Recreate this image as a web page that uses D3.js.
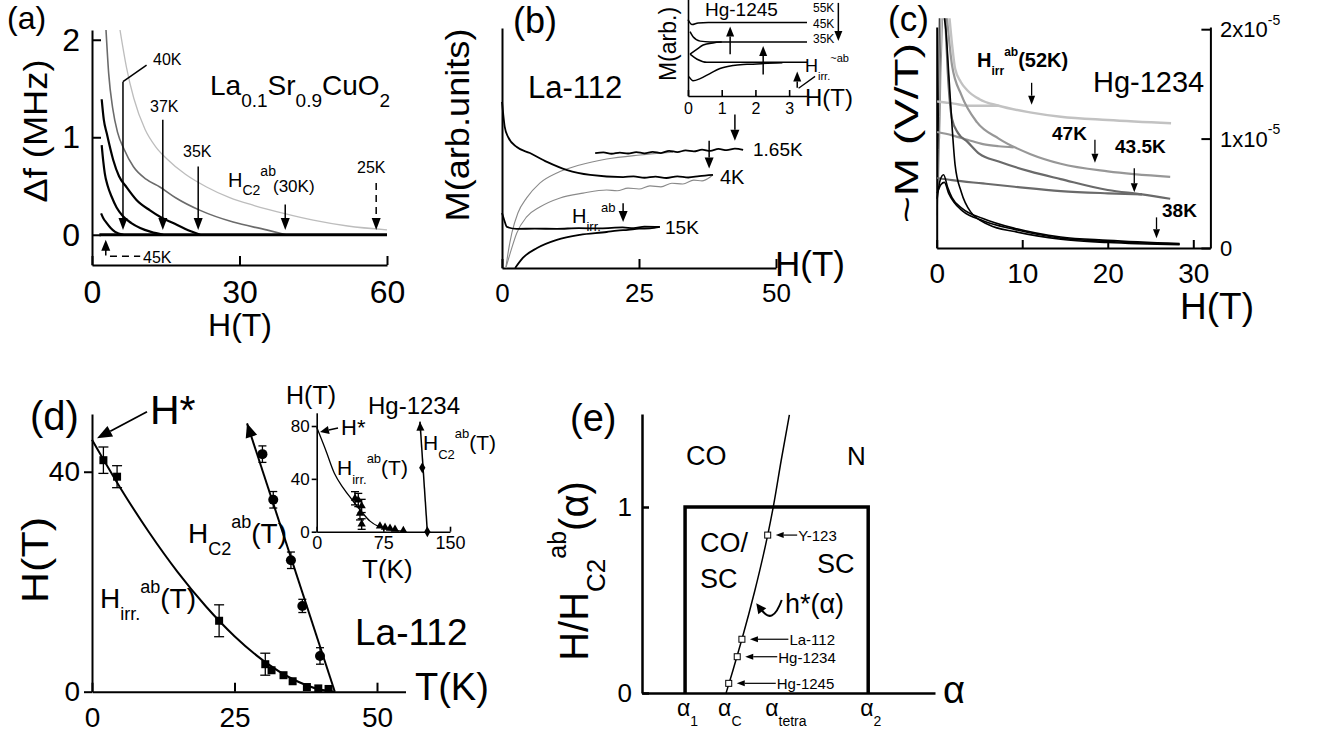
<!DOCTYPE html>
<html>
<head>
<meta charset="utf-8">
<script src="https://cdn.jsdelivr.net/npm/d3@7"></script>
<style>
  body { margin: 0; background: #fff; }
  text { font-family: "Liberation Sans", Arial, Helvetica, sans-serif; fill: #000; }
</style>
</head>
<body>
<svg id="fig" width="1331" height="735"></svg>
<script>
// ---------- data ----------

// (a) La0.1Sr0.9CuO2, delta f (MHz) vs H (T)
var tempsA = ["25K", "30K", "35K", "37K", "40K"];
var curvesA = [
  [[5.7,2.1],[7,1.72],[8.5,1.4],[10.8,1.08],[13,0.9],[15.2,0.78],[19,0.62],[23.3,0.49],[28,0.38],[33,0.3],[39,0.22],[45,0.15],[52,0.09],[60,0.05]],
  [[2.85,2.1],[3.4,1.65],[4.2,1.3],[5.2,1.05],[6.5,0.88],[8.4,0.7],[11,0.57],[13.8,0.49],[17,0.38],[22,0.25],[28.7,0.13],[35.5,0.05],[39.5,0]],
  [[1.97,1.39],[2.4,1.18],[3,1.04],[4.3,0.77],[5.5,0.6],[7,0.49],[9,0.36],[11.8,0.25],[14,0.18],[16.5,0.12],[19,0.06],[22,0]],
  [[1.97,0.92],[2.3,0.75],[2.6,0.63],[3.2,0.5],[4,0.39],[5,0.28],[6.3,0.19],[8,0.12],[9.8,0.07],[12,0.03],[14.5,0]],
  [[1.85,0.22],[2.3,0.17],[3,0.12],[3.8,0.07],[4.7,0.03],[6.4,0]]
];
var zeroA = [[1.5, 0], [60, 0]];
var arrowHA = [57.8, 39.3, 21.6, 14.4, 6.3];
var arrowTopA = [0.53, 0.31, 0.70, 1.18, 1.57];
var xTicksA = [0, 30, 60];
var yTicksA = [0, 1, 2];

// (b) La-112, M (arb. units) vs H (T)
var tempsB = ["1.65K", "4K", "15K"];
var downB = [
  [[17,47.9],[18.5,48.2],[20,47.6],[21.5,48.1],[23,47.7],[24.5,48.3],[26,47.8],[27.5,48.4],[29,47.9],[30.5,48.8],[32,48.3],[33.5,49],[35,48.6],[36.5,49.3],[38,48.8],[39.5,49.6],[41,49.1],[42.5,49.7],[44,49.2]],
  [[0,69.2],[0.2,64.6],[0.5,58.8],[1.1,54.6],[2.7,50.4],[5.1,47.9],[8.2,44.2],[11.9,40.8],[16.1,38.8],[22.1,37.9],[24,38.2],[26,37.6],[28,38.1],[30,37.5],[32,38.2],[34,37.7],[36,38.3],[38.5,38.8]],
  [[0,22.9],[0.4,20],[0.9,17.1],[2.7,16.3],[6,16.4],[10,16.3],[14,16.6],[18,16.5],[22,16.9],[24,16.6],[26,17.2],[28.8,17.1]]
];
var upB = [
  [[0.7,0],[1.1,6.2],[1.8,14.6],[2.9,22.9],[4.5,29.2],[6.9,35.4],[10,39.6],[14.2,42.9],[19.1,45.4],[25.2,47.1],[31.2,48.3]],
  [[0.7,0],[1.5,6.2],[2.7,14.6],[4.5,21.3],[6.9,25.4],[10.6,29.2],[14.8,31.2],[19.1,32.5],[21,32.2],[23,33.3],[25,32.9],[27,34.2],[29,33.8],[31,35.3],[33,35],[35,36.6],[36.5,36.3],[38,37.9],[38.5,38.8]],
  [[2.4,0],[3.8,4.2],[6.4,8.3],[10,11.7],[14.2,13.8],[19.1,15],[21,15.6],[23,15.9],[25,16.4],[27,16.5],[28.8,17.1]]
];
var xTicksB = [0, 25, 50];
var arrowHB = [42.5, 37.8, 22.1];
var arrowFromB = [64, 53, 27];
var arrowToB = [53, 41.5, 19.2];

// (b) inset, Hg-1245
var tempsBi = ["55K", "45K", "35K"];
var downBi = [
  [[0,78],[0.12,72.9],[0.3,74.5],[0.6,75],[3.53,75]],
  [[0.06,65.6],[0.15,60.4],[0.36,56],[0.65,55.2],[3.53,55.2]],
  [[0.06,42.7],[0.27,37.5],[0.56,34.4],[3.53,34.4]]
];
var upBi = [
  [],
  [[0.06,42.7],[0.27,47.9],[0.45,52],[0.74,54.2],[1.0,55]],
  [[0.03,19.8],[0.15,15.6],[0.36,17.7],[0.65,22.9],[0.95,28.1],[1.34,31.2],[1.75,32.3],[2.35,33.3],[2.8,34]]
];
var xTicksBi = [0, 1, 2, 3];
var arrowHBi = [1.25, 2.23, 3.24];
var arrowFromBi = [42.7, 21.9, 8.3];
var arrowToBi = [70.8, 51, 25];

// (c) Hg-1234, -M (1e-5 V/T) vs H (T)
var tempsC = ["52K", "47K", "43.5K", "38K"];
var greysC = ["#c2c2c2", "#979797", "#6a6a6a", "#000"];
var upperC = [
  [[1.5,2.1],[1.8,1.86],[2.15,1.64],[2.8,1.52],[3.6,1.44],[5,1.36],[7.25,1.3],[10.9,1.24],[14.5,1.2],[20,1.17],[27.4,1.14]],
  [[1.2,2.1],[1.5,1.86],[1.79,1.67],[2.88,1.4],[4.7,1.15],[7.25,1.0],[10.9,0.86],[14.5,0.77],[20,0.7],[27.3,0.65]],
  [[1.0,2.1],[1.3,1.6],[1.79,1.18],[2.5,1.05],[3.6,0.97],[5,0.86],[7.25,0.79],[10.9,0.7],[14.5,0.63],[20,0.53],[24,0.49],[27.3,0.45]],
  [[0.9,2.1],[1.06,2.0],[1.42,1.58],[1.79,1.12],[2.15,0.76],[2.88,0.51],[3.97,0.33],[6.15,0.21],[9.1,0.15],[14.5,0.08],[20,0.05],[28.4,0.03]]
];
var lowerC = [
  [[0.05,1.34],[1,1.33],[2,1.32],[3.6,1.3],[5.5,1.3],[7.25,1.3]],
  [[0.05,1.06],[1.8,1.03],[3.6,0.99],[5.4,0.95],[7.25,0.93],[9,0.92]],
  [[0.05,0.64],[1.8,0.62],[5.4,0.59],[9.1,0.56],[14.5,0.52],[20,0.5],[24,0.49]],
  [[0.05,0.45],[0.4,0.62],[0.8,0.67],[1.3,0.55],[1.79,0.46],[3,0.36],[5.4,0.27],[9.1,0.18],[14.5,0.1],[20,0.07],[28.4,0.04]]
];
var bundleC = [[0.05,0.5],[0.5,0.58],[0.9,0.6],[1.4,0.5],[2,0.42],[3,0.34],[5.4,0.25],[9.1,0.17],[14.5,0.09],[20,0.06],[28.4,0.035]];
var spikesC = [
  [[0.08,0.3],[0.18,0.9],[0.3,2.1]],
  [[0.2,0.55],[0.35,1.2],[0.5,2.1]],
  [[0.35,1.0],[0.5,1.6],[0.7,2.1]]
];
var spikeGreyC = ["#000", "#6a6a6a", "#979797"];
var xTicksC = [0, 10, 20, 30];
var yTicksC = [0, 1, 2];
var arrowHC = [11.1, 18.5, 23.1, 25.7];
var arrowFromC = [1.51, 0.99, 0.73, 0.28];
var arrowToC = [1.31, 0.78, 0.51, 0.09];

// (d) La-112, H (T) vs T (K)
var tIrrD = [2.0, 4.4, 22.3, 30.4, 31.5, 33.6, 35.2, 37.7, 39.7, 41.5];
var hIrrD = [42.1, 39.1, 12.9, 5.0, 3.9, 3.0, 1.9, 0.85, 0.6, 0.5];
var eIrrD = [2.4, 2.0, 2.9, 2.0, 0.6, 0.4, 0.4, 0.3, 0.3, 0.3];
var fitIrrD = [[0,45.8],[5,37],[10,29],[15,21.8],[20,15.5],[25,10.1],[30,5.7],[35,2.4],[40,0.4],[42.6,0]];
var tC2D = [29.9, 31.8, 34.9, 36.9, 40.0];
var hC2D = [43.2, 34.9, 23.9, 15.6, 6.5];
var eC2D = [1.5, 1.5, 1.5, 1.2, 1.5];
var lineC2D = [[42.6, 0], [27.2, 48.8]];
var xTicksD = [0, 25, 50];
var yTicksD = [0, 40];

// (d) inset, Hg-1234
var tIrrDi = [43.1, 46.8, 50.6, 48.7, 50.6, 71.2, 76.9, 82.5, 88.1, 97.5];
var hIrrDi = [25.3, 24, 19.5, 13.9, 5.8, 4.3, 3.3, 2.6, 1.8, 0.8];
var fitIrrDi = [[0,79],[10,62],[20,44],[30,33],[40,24],[50,15.5],[60,8],[70,3.8],[80,1.8],[90,0.8],[97,0.5]];
var tC2Di = [118.8, 124.5];
var hC2Di = [48.4, 0];
var lineC2Di = [[124.5, 0], [116.2, 83.3]];
var xTicksDi = [0, 75, 150];
var yTicksDi = [0, 40, 80];

// (e) phase diagram, H/Hc2 vs alpha
var alphaNames = ["1", "C", "tetra", "2"];
var alphaVals = [0.147, 0.287, 0.448, 0.772];
var hStarE = [[0.287,0],[0.31,0.12],[0.341,0.289],[0.385,0.55],[0.429,0.849],[0.448,1.0],[0.475,1.25],[0.503,1.495]];
var materialsE = ["Hg-1245", "Hg-1234", "La-112", "Y-123"];
var matAlphaE = [0.296, 0.325, 0.341, 0.429];
var matHE = [0.052, 0.195, 0.289, 0.849];
var matLabelAlphaE = [0.46, 0.465, 0.503, 0.533];
var boxE = [[0.147, 0], [0.147, 1], [0.772, 1], [0.772, 0]];
var yTicksE = [0, 1];

// ---------- helpers ----------
var svg = d3.select("#fig");
var intFmt = d3.format("d");

function rich(g, x, y, parts, size, attrs) {
  var t = g.append("text").attr("x", x).attr("y", y).attr("font-size", size);
  var shift = 0;
  parts.forEach(function (p) {
    var kind = p[1] || "";
    var fs = kind ? (p[2] || size * 0.65) : size;
    var target = kind === "sub" ? size * 0.42 : kind === "sup" ? -size * 0.55 : 0;
    t.append("tspan").attr("dy", target - shift).attr("font-size", fs).text(p[0]);
    shift = target;
  });
  for (var k in attrs || {}) t.attr(k, attrs[k]);
  return t;
}

function arrow(g, x1, y1, x2, y2, opt) {
  opt = opt || {};
  var w = opt.w || 4, l = opt.l || 10;
  var ang = Math.atan2(y2 - y1, x2 - x1);
  var bx = x2 - l * Math.cos(ang), by = y2 - l * Math.sin(ang);
  g.append("line")
    .attr("x1", x1).attr("y1", y1).attr("x2", bx).attr("y2", by)
    .attr("stroke", "#000").attr("stroke-width", opt.sw || 1.5)
    .attr("stroke-dasharray", opt.dash || null);
  var px = -Math.sin(ang) * w, py = Math.cos(ang) * w;
  g.append("path")
    .attr("d", "M" + x2 + "," + y2 + "L" + (bx + px) + "," + (by + py) + "L" + (bx - px) + "," + (by - py) + "Z")
    .attr("fill", "#000");
}

function axisStyle(g, fs, sw) {
  g.attr("font-size", fs);
  g.selectAll("path, line").attr("stroke", "#000").attr("stroke-width", sw);
  return g;
}

function curve(g, data, line, color, width) {
  return g.append("path").datum(data)
    .attr("d", line).attr("fill", "none")
    .attr("stroke", color).attr("stroke-width", width)
    .attr("stroke-linejoin", "round");
}

// ---------- (a) ----------
var gA = svg.append("g");
var xA = d3.scaleLinear().domain([0, 60]).range([92, 387]);
var yA = d3.scaleLinear().domain([-0.31, 2.1]).range([265, 30]);
axisStyle(gA.append("g").attr("transform", "translate(0,265)")
  .call(d3.axisBottom(xA).tickValues(xTicksA).tickFormat(intFmt).tickSizeInner(-9).tickSizeOuter(0).tickPadding(15)), 32, 2);
axisStyle(gA.append("g").attr("transform", "translate(92,0)")
  .call(d3.axisLeft(yA).tickValues(yTicksA).tickFormat(intFmt).tickSizeInner(-9).tickSizeOuter(0).tickPadding(12)), 32, 2);

var lineA = d3.line().x(d => xA(d[0])).y(d => yA(d[1])).curve(d3.curveMonotoneX);
var colorsA = ["#bdbdbd", "#6b6b6b", "#000", "#000", "#000"];
var widthsA = [1.3, 1.6, 2.2, 2.2, 2.2];
curvesA.forEach(function (c, i) { curve(gA, c, lineA, colorsA[i], widthsA[i]); });
curve(gA, zeroA, lineA, "#000", 3);

tempsA.forEach(function (t, i) {
  arrow(gA, xA(arrowHA[i]), yA(arrowTopA[i]), xA(arrowHA[i]), yA(0.05),
    { w: 4.5, l: 12, dash: i === 0 ? "7,5" : null });
});
// 40K leader
gA.append("line").attr("x1", xA(11.1)).attr("y1", yA(1.74)).attr("x2", xA(6.3)).attr("y2", yA(1.57))
  .attr("stroke", "#000").attr("stroke-width", 1.5);
// 45K marker
arrow(gA, xA(2.8), yA(-0.14), xA(2.8), yA(-0.05), { w: 4.5, l: 11 });
gA.append("path").datum([[2.8, -0.14], [2.8, -0.22], [9.8, -0.22]])
  .attr("d", d3.line().x(d => xA(d[0])).y(d => yA(d[1])))
  .attr("fill", "none").attr("stroke", "#000").attr("stroke-width", 1.5).attr("stroke-dasharray", "7,5");

gA.append("text").attr("x", 7).attr("y", 29).attr("font-size", 32).text("(a)");
gA.append("text").attr("transform", "translate(47,131) rotate(-90)").attr("text-anchor", "middle")
  .attr("font-size", 33).attr("textLength", 143).attr("lengthAdjust", "spacingAndGlyphs").text("Δf (MHz)");
gA.append("text").attr("x", 240).attr("y", 336).attr("text-anchor", "middle").attr("font-size", 32).text("H(T)");
rich(gA, 210, 95, [["La"], ["0.1", "sub", 19], ["Sr"], ["0.9", "sub", 19], ["CuO"], ["2", "sub", 19]], 28);
gA.append("text").attr("x", 153).attr("y", 65).attr("font-size", 16).text("40K");
gA.append("text").attr("x", 150).attr("y", 112).attr("font-size", 16).text("37K");
gA.append("text").attr("x", 183).attr("y", 157).attr("font-size", 16).text("35K");
gA.append("text").attr("x", 357).attr("y", 173).attr("font-size", 16).text("25K");
gA.append("text").attr("x", 143).attr("y", 263).attr("font-size", 16).text("45K");
rich(gA, 228, 187, [["H"], ["C2", "sub", 14], ["ab", "sup", 14]], 20);
gA.append("text").attr("x", 273).attr("y", 192).attr("font-size", 17).text("(30K)");

// ---------- (b) ----------
var gB = svg.append("g");
var xB = d3.scaleLinear().domain([0, 50]).range([502, 776]);
var yB = d3.scaleLinear().domain([0, 100]).range([268, 28]);
axisStyle(gB.append("g").attr("transform", "translate(0,268)")
  .call(d3.axisBottom(xB).tickValues(xTicksB).tickFormat(intFmt).tickSizeInner(-9).tickSizeOuter(0).tickPadding(16)), 26, 2);
axisStyle(gB.append("g").attr("transform", "translate(502,0)")
  .call(d3.axisLeft(yB).tickValues([]).tickSizeOuter(0)), 26, 2);

var lineB = d3.line().x(d => xB(d[0])).y(d => yB(d[1])).curve(d3.curveMonotoneX);
var upColorB = ["#8a8a8a", "#8a8a8a", "#000"];
var upWidthB = [1.1, 1.1, 1.8];
upB.forEach(function (c, i) { curve(gB, c, lineB, upColorB[i], upWidthB[i]); });
downB.forEach(function (c) { curve(gB, c, lineB, "#000", 1.8); });
arrowHB.forEach(function (h, i) {
  arrow(gB, xB(h), yB(arrowFromB[i]), xB(h), yB(arrowToB[i]), { w: 4.5, l: 11 });
});

gB.append("text").attr("x", 513).attr("y", 33).attr("font-size", 36).text("(b)");
gB.append("text").attr("transform", "translate(469,125) rotate(-90)").attr("text-anchor", "middle")
  .attr("font-size", 34).attr("textLength", 193).attr("lengthAdjust", "spacingAndGlyphs").text("M(arb.units)");
gB.append("text").attr("x", 528).attr("y", 98).attr("font-size", 31).text("La-112");
gB.append("text").attr("x", 775).attr("y", 276).attr("font-size", 35).text("H(T)");
gB.append("text").attr("x", 753).attr("y", 156).attr("font-size", 19).text("1.65K");
gB.append("text").attr("x", 720).attr("y", 184).attr("font-size", 20).text("4K");
gB.append("text").attr("x", 665).attr("y", 234).attr("font-size", 19).text("15K");
rich(gB, 572, 223, [["H"], ["irr.", "sub", 13], ["ab", "sup", 13]], 20);

// ---------- (b) inset ----------
var gBi = svg.append("g");
var xBi = d3.scaleLinear().domain([0, 3.53]).range([688, 807]);
var yBi = d3.scaleLinear().domain([0, 100]).range([96, -2]);
axisStyle(gBi.append("g").attr("transform", "translate(0,96)")
  .call(d3.axisBottom(xBi).tickValues(xTicksBi).tickFormat(intFmt).tickSizeInner(-6).tickSizeOuter(0).tickPadding(7)), 16, 1.6);
axisStyle(gBi.append("g").attr("transform", "translate(688,0)")
  .call(d3.axisLeft(yBi).tickValues([]).tickSizeOuter(0)), 16, 1.6);
var lineBi = d3.line().x(d => xBi(d[0])).y(d => yBi(d[1])).curve(d3.curveMonotoneX);
downBi.forEach(function (c) { curve(gBi, c, lineBi, "#000", 1.5); });
upBi.forEach(function (c) { if (c.length) curve(gBi, c, lineBi, "#000", 1.5); });
arrowHBi.forEach(function (h, i) {
  arrow(gBi, xBi(h), yBi(arrowFromBi[i]), xBi(h), yBi(arrowToBi[i]), { w: 4, l: 10 });
});
arrow(gBi, xBi(4.46), yBi(95), xBi(4.46), yBi(56), { w: 4, l: 10 });
gBi.append("line").attr("x1", xBi(3.28)).attr("y1", yBi(8)).attr("x2", xBi(3.77)).attr("y2", yBi(20))
  .attr("stroke", "#000").attr("stroke-width", 1.3);

gBi.append("text").attr("x", 705).attr("y", 16).attr("font-size", 19).text("Hg-1245");
gBi.append("text").attr("transform", "translate(676,44) rotate(-90)").attr("text-anchor", "middle")
  .attr("font-size", 23).text("M(arb.)");
gBi.append("text").attr("x", 805).attr("y", 106).attr("font-size", 24).text("H(T)");
var labYBi = [12, 28, 43];
tempsBi.forEach(function (t, i) {
  gBi.append("text").attr("x", 813).attr("y", labYBi[i]).attr("font-size", 12).text(t);
});
rich(gBi, 805, 72, [["H"], ["irr.", "sub", 11], ["~ab", "sup", 11]], 18);

// ---------- (c) ----------
var gC = svg.append("g");
var xC = d3.scaleLinear().domain([0, 32]).range([936.7, 1210.4]);
var yC = d3.scaleLinear().domain([0, 2.02]).range([248, 27]);
axisStyle(gC.append("g").attr("transform", "translate(0,248)")
  .call(d3.axisBottom(xC).tickValues(xTicksC).tickFormat(intFmt).tickSizeInner(-8).tickSizeOuter(0).tickPadding(15)), 28, 2);
axisStyle(gC.append("g").attr("transform", "translate(936.7,0)")
  .call(d3.axisLeft(yC).tickValues([]).tickSizeOuter(0)), 28, 2);
axisStyle(gC.append("g").attr("transform", "translate(1210.4,0)")
  .call(d3.axisRight(yC).tickValues(yTicksC).tickSizeInner(-9).tickSizeOuter(0).tickFormat(() => "")), 22, 2);
yTicksC.forEach(function (v) {
  if (v === 0) {
    gC.append("text").attr("x", 1220).attr("y", yC(v) + 8).attr("font-size", 22).text("0");
  } else {
    rich(gC, 1220, yC(v) + 8, [[v + "x10"], ["-5", "sup", 14]], 22);
  }
});

var lineC = d3.line().x(d => xC(d[0])).y(d => yC(d[1])).curve(d3.curveMonotoneX);
var widthsC = [2.4, 2.2, 2.2, 1.6];
spikesC.forEach(function (s, i) {
  curve(gC, s, d3.line().x(d => xC(d[0])).y(d => yC(d[1])), spikeGreyC[i], 1);
});
tempsC.forEach(function (t, i) {
  curve(gC, lowerC[i], lineC, greysC[i], widthsC[i]);
  curve(gC, upperC[i], lineC, greysC[i], widthsC[i]);
});
curve(gC, bundleC, lineC, "#000", 1.6);
arrowHC.forEach(function (h, i) {
  arrow(gC, xC(h), yC(arrowFromC[i]), xC(h), yC(arrowToC[i]), { w: 3.5, l: 9, sw: 1.3 });
});

gC.append("text").attr("x", 888).attr("y", 31).attr("font-size", 35).text("(c)");
gC.append("text").attr("transform", "translate(918,133) rotate(-90)").attr("text-anchor", "middle")
  .attr("font-size", 33).attr("textLength", 180).attr("lengthAdjust", "spacingAndGlyphs").text("~M (V/T)");
gC.append("text").attr("x", 1180).attr("y", 319).attr("font-size", 37).text("H(T)");
gC.append("text").attr("x", 1093).attr("y", 92).attr("font-size", 29).text("Hg-1234");
rich(gC, 977, 67, [["H"], ["irr", "sub", 12], ["ab", "sup", 12], ["(52K)"]], 20, { "font-weight": "bold" });
gC.append("text").attr("x", 1052).attr("y", 140).attr("font-size", 19).attr("font-weight", "bold").text("47K");
gC.append("text").attr("x", 1115).attr("y", 153).attr("font-size", 19).attr("font-weight", "bold").text("43.5K");
gC.append("text").attr("x", 1162).attr("y", 217).attr("font-size", 19).attr("font-weight", "bold").text("38K");

// ---------- (d) ----------
var gD = svg.append("g");
var xD = d3.scaleLinear().domain([0, 55]).range([92, 405.5]);
var yD = d3.scaleLinear().domain([0, 50.5]).range([691.7, 414]);
axisStyle(gD.append("g").attr("transform", "translate(0,691.7)")
  .call(d3.axisBottom(xD).tickValues(xTicksD).tickFormat(intFmt).tickSizeInner(-9).tickSizeOuter(0).tickPadding(15)), 28, 2);
axisStyle(gD.append("g").attr("transform", "translate(92,0)")
  .call(d3.axisLeft(yD).tickValues(yTicksD).tickFormat(intFmt).tickSizeInner(8).tickSizeOuter(0).tickPadding(4)), 28, 2);

var lineD = d3.line().x(d => xD(d[0])).y(d => yD(d[1])).curve(d3.curveMonotoneX);
curve(gD, fitIrrD, lineD, "#000", 2);
curve(gD, lineC2D, d3.line().x(d => xD(d[0])).y(d => yD(d[1])), "#000", 2);
arrow(gD, xD(27.9), yD(46.6), xD(27.2), yD(48.8), { w: 6, l: 14 });

function errbars(g, xs, ys, es, x, y, cap) {
  xs.forEach(function (t, i) {
    if (es[i] < 0.8) return;
    var cx = x(t);
    g.append("line").attr("x1", cx).attr("x2", cx).attr("y1", y(ys[i] - es[i])).attr("y2", y(ys[i] + es[i]))
      .attr("stroke", "#000").attr("stroke-width", 1.3);
    [ys[i] - es[i], ys[i] + es[i]].forEach(function (v) {
      g.append("line").attr("x1", cx - cap).attr("x2", cx + cap).attr("y1", y(v)).attr("y2", y(v))
        .attr("stroke", "#000").attr("stroke-width", 1.3);
    });
  });
}
errbars(gD, tIrrD, hIrrD, eIrrD, xD, yD, 5);
errbars(gD, tC2D, hC2D, eC2D, xD, yD, 4);
gD.selectAll(".sq").data(tIrrD).enter().append("rect")
  .attr("x", (d) => xD(d) - 4).attr("y", (d, i) => yD(hIrrD[i]) - 4)
  .attr("width", 8).attr("height", 8).attr("fill", "#000");
gD.selectAll(".ci").data(tC2D).enter().append("circle")
  .attr("cx", (d) => xD(d)).attr("cy", (d, i) => yD(hC2D[i])).attr("r", 5).attr("fill", "#000");
arrow(gD, xD(9.65), yD(50.9), xD(0.88), yD(46.1), { w: 6, l: 15, sw: 1.8 });

gD.append("text").attr("x", 30).attr("y", 430).attr("font-size", 40).text("(d)");
gD.append("text").attr("x", 150).attr("y", 424).attr("font-size", 41).text("H*");
gD.append("text").attr("transform", "translate(48,560) rotate(-90)").attr("text-anchor", "middle")
  .attr("font-size", 37).attr("textLength", 86).attr("lengthAdjust", "spacingAndGlyphs").text("H(T)");
rich(gD, 188, 543, [["H"], ["C2", "sub", 18], ["ab", "sup", 18], ["(T)"]], 28);
rich(gD, 100, 608, [["H"], ["irr.", "sub", 18], ["ab", "sup", 18], ["(T)"]], 28);
gD.append("text").attr("x", 355).attr("y", 645).attr("font-size", 37).text("La-112");
gD.append("text").attr("x", 415).attr("y", 700).attr("font-size", 38).text("T(K)");

// ---------- (d) inset ----------
var gDi = svg.append("g");
var xDi = d3.scaleLinear().domain([0, 150]).range([316.7, 450]);
var yDi = d3.scaleLinear().domain([0, 90]).range([531.7, 412.8]);
axisStyle(gDi.append("g").attr("transform", "translate(0,531.7)")
  .call(d3.axisBottom(xDi).tickValues(xTicksDi).tickFormat(intFmt).tickSizeInner(-5).tickSizeOuter(0).tickPadding(5)), 18, 1.6);
axisStyle(gDi.append("g").attr("transform", "translate(316.7,0)")
  .call(d3.axisLeft(yDi).tickValues(yTicksDi).tickFormat(intFmt).tickSizeInner(5).tickSizeOuter(0).tickPadding(2)), 17, 1.6);
var lineDi = d3.line().x(d => xDi(d[0])).y(d => yDi(d[1])).curve(d3.curveMonotoneX);
curve(gDi, fitIrrDi, lineDi, "#000", 1.3);
curve(gDi, lineC2Di, d3.line().x(d => xDi(d[0])).y(d => yDi(d[1])), "#000", 1.5);
arrow(gDi, xDi(116.6), yDi(78), xDi(116.2), yDi(83.3), { w: 4, l: 9 });
errbars(gDi, tIrrDi.slice(0, 5), hIrrDi.slice(0, 5), [5, 5, 5, 5, 4], xDi, yDi, 4);
gDi.selectAll(".tri").data(tIrrDi).enter().append("path")
  .attr("d", d3.symbol(d3.symbolTriangle, 30))
  .attr("transform", (d, i) => "translate(" + xDi(d) + "," + yDi(hIrrDi[i]) + ")")
  .attr("fill", "#000");
gDi.selectAll(".dia").data(tC2Di).enter().append("path")
  .attr("d", d3.symbol(d3.symbolDiamond, 34))
  .attr("transform", (d, i) => "translate(" + xDi(d) + "," + yDi(hC2Di[i]) + ")")
  .attr("fill", "#000");
arrow(gDi, xDi(24), yDi(78.5), xDi(3.7), yDi(75.5), { w: 4, l: 9 });

gDi.append("text").attr("x", 286).attr("y", 404).attr("font-size", 25).text("H(T)");
gDi.append("text").attr("x", 368).attr("y", 414).attr("font-size", 24).text("Hg-1234");
gDi.append("text").attr("x", 341).attr("y", 435).attr("font-size", 22).text("H*");
rich(gDi, 337, 475, [["H"], ["irr.", "sub", 13], ["ab", "sup", 13], ["(T)"]], 21);
rich(gDi, 423, 450, [["H"], ["C2", "sub", 13], ["ab", "sup", 13], ["(T)"]], 21);
gDi.append("text").attr("x", 362).attr("y", 578).attr("font-size", 26).text("T(K)");

// ---------- (e) ----------
var gE = svg.append("g");
var xE = d3.scaleLinear().domain([0, 1]).range([642, 935]);
var yE = d3.scaleLinear().domain([0, 1.5]).range([693, 414]);
axisStyle(gE.append("g").attr("transform", "translate(0,693)")
  .call(d3.axisBottom(xE).tickValues([]).tickSizeOuter(0)), 25, 2.5);
axisStyle(gE.append("g").attr("transform", "translate(642,0)")
  .call(d3.axisLeft(yE).tickValues(yTicksE).tickFormat(intFmt).tickSizeInner(-7).tickSizeOuter(0).tickPadding(10)), 26, 2.5);

var lineE = d3.line().x(d => xE(d[0])).y(d => yE(d[1]));
curve(gE, boxE, lineE, "#000", 3.5).attr("stroke-linejoin", "miter");
curve(gE, hStarE, d3.line().x(d => xE(d[0])).y(d => yE(d[1])).curve(d3.curveMonotoneY), "#000", 1.5);
materialsE.forEach(function (m, i) {
  var lx = xE(matLabelAlphaE[i]), ly = yE(matHE[i]);
  arrow(gE, lx - 1, ly, xE(matAlphaE[i]) + 8, ly, { w: 3, l: 8, sw: 1.2 });
  gE.append("text").attr("x", lx).attr("y", ly + 6).attr("font-size", 15).text(m);
});
gE.selectAll(".msq").data(matAlphaE).enter().append("rect")
  .attr("x", (d) => xE(d) - 3).attr("y", (d, i) => yE(matHE[i]) - 3)
  .attr("width", 6).attr("height", 6).attr("fill", "#fff").attr("stroke", "#000").attr("stroke-width", 1);

// curved arrow to h*(alpha)
var cStart = [xE(0.477), yE(0.5)], cCtrl = [xE(0.445), yE(0.36)], cTip = [xE(0.39), yE(0.482)];
gE.append("path")
  .attr("d", "M" + cStart + "Q" + cCtrl + " " + (cTip[0] + 5) + "," + (cTip[1] + 6))
  .attr("fill", "none").attr("stroke", "#000").attr("stroke-width", 2);
arrow(gE, cTip[0] + 6, cTip[1] + 8, cTip[0], cTip[1], { w: 5, l: 10, sw: 0.1 });

gE.append("text").attr("x", 570).attr("y", 431).attr("font-size", 38).text("(e)");
rich(gE.append("g").attr("transform", "translate(588,571) rotate(-90)"), 0, 0,
  [["H/H"], ["C2", "sub", 26], ["ab", "sup", 25], ["(α)"]], 40, { "text-anchor": "middle" });
gE.append("text").attr("x", 686).attr("y", 465).attr("font-size", 27).text("CO");
gE.append("text").attr("x", 847).attr("y", 465).attr("font-size", 26).text("N");
gE.append("text").attr("x", 700).attr("y", 552).attr("font-size", 27).text("CO/");
gE.append("text").attr("x", 700).attr("y", 588).attr("font-size", 27).text("SC");
gE.append("text").attr("x", 817).attr("y", 573).attr("font-size", 27).text("SC");
gE.append("text").attr("x", 785).attr("y", 613).attr("font-size", 27).text("h*(α)");
gE.append("text").attr("x", 943).attr("y", 703).attr("font-size", 38).text("α");
alphaNames.forEach(function (n, i) {
  rich(gE, xE(alphaVals[i]) - 8, 716, [["α"], [n, "sub", 14]], 23);
});
</script>
</body>
</html>
